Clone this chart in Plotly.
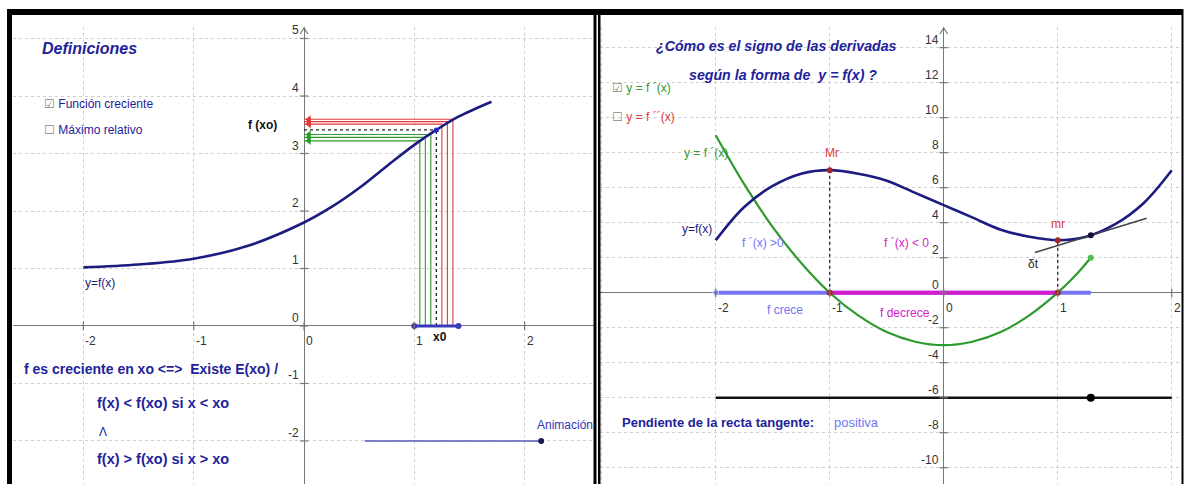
import plotly.graph_objects as go

W, H = 1184, 484

# ---------------- left panel data ----------------
left_x = [-2, -1.5, -1, -0.5, 0, 0.25, 0.5, 0.75, 1.0, 1.2, 1.4, 1.7]
left_y = [1.02, 1.07, 1.17, 1.40, 1.80, 2.07, 2.40, 2.78, 3.15, 3.41, 3.64, 3.90]
red_x = [1.25, 1.30, 1.35]
red_y = [3.51, 3.555, 3.595]
green_x = [1.05, 1.10, 1.15]
green_y = [3.22, 3.28, 3.33]
x0_val, fx0_val = 1.2, 3.41
slider_x = [1.0, 1.4]
anim_x = [0.55, 2.15]
anim_y = -2
left_xticks = [-2, -1, 0, 1, 2]
left_yticks = [-2, -1, 0, 1, 2, 3, 4, 5]

# ---------------- right panel data ----------------
fx = [-2, -1.75, -1.5, -1.25, -1, -0.75, -0.5, -0.25, 0, 0.25, 0.5, 0.75, 1, 1.25, 1.5, 1.75, 2]
fy = [3.0, 4.9, 6.1, 6.8, 7.0, 6.8, 6.4, 5.7, 5.0, 4.3, 3.6, 3.2, 3.0, 3.2, 3.9, 5.1, 7.0]
dfx = [-2, -1.75, -1.5, -1.25, -1, -0.75, -0.5, -0.25, 0, 0.25, 0.5, 0.75, 1, 1.15, 1.29]
dfy = [9.0, 6.2, 3.75, 1.7, 0, -1.3, -2.25, -2.8, -3.0, -2.8, -2.25, -1.3, 0, 0.95, 2.0]
max_pt = (-1, 7.0)
min_pt = (1, 3.0)
cur_x, cur_f, cur_df = 1.29, 3.28, 2.0
tan_x = [0.8, 1.78]
tan_y = [2.30, 4.25]
crece_x = [-2, 1.29]
decrece_x = [-1, 1]
slope_slider_x = [-2, 2.0]
slope_slider_y = -6
right_xticks = [-2, -1, 0, 1, 2]
right_yticks = [-10, -8, -6, -4, -2, 0, 2, 4, 6, 8, 10, 12, 14]

# colours
DARK = "#1c1c80"
TXT = "#22229a"
LBLUE = "#7474f4"
MAG = "#d41ccc"
GREEN = "#2f9a2f"
RED = "#e03a3a"
AXIS = "#777777"

# view ranges (GeoGebra style)
LX = [-2.638, 2.629]
LY = [-2.748, 5.2]
RX = [-3.015, 2.090]
RY = [-10.93, 15.18]

fig = go.Figure()


def seg(xs, ys, color, width=1.2, dash=None, ax="", mode="lines", **kw):
    fig.add_trace(go.Scatter(x=xs, y=ys, mode=mode, xaxis="x" + ax, yaxis="y" + ax,
                             line=dict(color=color, width=width, dash=dash),
                             hoverinfo="skip", **kw))


# ---------- left panel ----------
for xs, ys, col in [(green_x, green_y, GREEN), (red_x, red_y, RED)]:
    vx, vy = [], []
    for a, b in zip(xs, ys):
        vx += [a, a, 0, None]
        vy += [0, b, b, None]
    seg(vx, vy, col, 1.1)
    seg([0.045] * len(ys), ys, col, mode="markers",
        marker=dict(symbol="triangle-left", size=7, color=col))

seg([x0_val, x0_val, None, 0, x0_val], [0, fx0_val, None, fx0_val, fx0_val], "#222222", 1.3, "dot")
seg(left_x, left_y, DARK, 2.6, line_shape="spline")
seg([x0_val], [fx0_val], DARK, mode="markers", marker=dict(size=5, color="#2222cc"))
seg(slider_x, [0, 0], "#3a3ab8", 3, mode="lines+markers", marker=dict(size=6, color="#3a3ab8"))
seg(anim_x, [anim_y, anim_y], "#5a5ab8", 1.5)
seg([anim_x[1]], [anim_y], "#222255", mode="markers", marker=dict(size=6, color="#1a1a50"))

# ---------- right panel ----------
seg([max_pt[0], max_pt[0], None, min_pt[0], min_pt[0]],
    [0, max_pt[1], None, 0, min_pt[1]], "#222222", 1.3, "dot", ax="2")
seg(crece_x, [0, 0], LBLUE, 4, ax="2", mode="lines+markers",
    marker=dict(size=[6, 0], color=LBLUE))
seg(decrece_x, [0, 0], MAG, 4, ax="2")
seg(dfx, dfy, GREEN, 2.2, ax="2", line_shape="spline")
seg([cur_x], [cur_df], GREEN, ax="2", mode="markers", marker=dict(size=6, color="#55bb55"))
seg(fx, fy, DARK, 2.6, ax="2", line_shape="spline")
seg(tan_x, tan_y, "#444444", 1.5, ax="2")
seg([cur_x], [cur_f], "#111111", ax="2", mode="markers", marker=dict(size=6, color="#111133"))
seg([max_pt[0], min_pt[0], max_pt[0], min_pt[0]], [max_pt[1], min_pt[1], 0, 0], "#a02828", ax="2",
    mode="markers", marker=dict(size=6, color="#a02828"))
seg(slope_slider_x, [slope_slider_y] * 2, "#111111", 2.5, ax="2")
seg([cur_x], [slope_slider_y], "#111111", ax="2", mode="markers", marker=dict(size=8, color="#000000"))

# tick marks on the axes and arrows
for ax, xt, yt, xr, yr in [("", left_xticks, left_yticks, LX, LY), ("2", right_xticks, right_yticks, RX, RY)]:
    seg(xt, [0] * len(xt), AXIS, ax=ax, mode="markers",
        marker=dict(symbol="line-ns-open", size=6, color=AXIS, line=dict(width=1.2, color=AXIS)))
    seg([0] * len(yt), yt, AXIS, ax=ax, mode="markers",
        marker=dict(symbol="line-ew-open", size=6, color=AXIS, line=dict(width=1.2, color=AXIS)))
    hw = 0.035 * (xr[1] - xr[0]) / 5.27
    hh = 7 / 457 * (yr[1] - yr[0])
    seg([-hw, 0, hw], [yr[1] - hh, yr[1] - 0.002 * (yr[1] - yr[0]), yr[1] - hh], AXIS, 1.2, ax=ax)

annotations = []
FONT = "Liberation Sans, Arial"


def txt(text, px, py, size=12, color=TXT, bold=False, italic=False, anchor="center"):
    if bold:
        text = "<b>" + text + "</b>"
    if italic:
        text = "<i>" + text + "</i>"
    annotations.append(dict(text=text, x=px / W, y=1 - py / H, xref="paper", yref="paper",
                            xanchor=anchor, yanchor="middle", showarrow=False,
                            font=dict(size=size, color=color, family=FONT)))


# axis numbers
for ax, xt, yt in [("", left_xticks, left_yticks), ("2", right_xticks, right_yticks)]:
    for v in xt:
        annotations.append(dict(text=str(v), x=v, y=0, xref="x" + ax, yref="y" + ax,
                                xanchor="left", yanchor="top", xshift=0, yshift=-6, showarrow=False,
                                font=dict(size=12, color="#333333", family=FONT)))
    for v in yt:
        annotations.append(dict(text=str(v), x=0, y=v, xref="x" + ax, yref="y" + ax,
                                xanchor="right", yanchor="bottom", xshift=-3, yshift=-1, showarrow=False,
                                font=dict(size=12, color="#333333", family=FONT)))

box_on = "<span style='color:#888888'>☑</span> "
box_off = "<span style='color:#888888'>☐</span> "

# left panel texts
txt("Definiciones", 40, 48, 16, bold=True, italic=True, anchor="left")
txt(box_on + "Función creciente", 42, 104, 12, anchor="left")
txt(box_off + "Máximo relativo", 42, 130, 12, anchor="left")
txt("f (xo)", 262, 125, 12, color="#111111", bold=True)
txt("y=f(x)", 100, 283, 12, color=DARK)
txt("f es creciente en xo &lt;=&gt;  Existe E(xo) /", 22, 369, 14, bold=True, anchor="left")
txt("f(x) &lt; f(xo) si x &lt; xo", 95, 403, 14.5, bold=True, anchor="left")
txt("Λ", 97, 432, 12, anchor="left")
txt("f(x) &gt; f(xo) si x &gt; xo", 95, 459, 14.5, bold=True, anchor="left")
txt("Animación", 565, 425, 12, color="#3535b5")
txt("x0", 440, 337, 12, color="#111111", bold=True)

# right panel texts
txt("¿Cómo es el signo de las derivadas", 776, 46, 14.2, bold=True, italic=True)
txt("según la forma de  y = f(x) ?", 783, 75, 14.2, bold=True, italic=True)
txt(box_on + "<span style='color:%s'>y = f ´(x)</span>" % GREEN, 610, 88, 12, anchor="left")
txt(box_off + "<span style='color:%s'>y = f ´´(x)</span>" % RED, 610, 117, 12, anchor="left")
txt("y = f ´(x)", 706, 153, 12, color=GREEN)
txt("Mr", 832, 153, 12, color=RED)
txt("y=f(x)", 697, 229, 12, color=DARK)
txt("f ´(x) &gt;0", 763, 243, 12, color=LBLUE)
txt("f ´(x) &lt; 0", 906, 243, 12, color=MAG)
txt("mr", 1058, 224, 12, color=RED)
txt("δt", 1033, 264, 12, color="#222222")
txt("f crece", 785, 310, 12, color=LBLUE)
txt("f decrece", 905, 313, 12, color=MAG)
txt("Pendiente de la recta tangente:", 620, 422, 13, bold=True, anchor="left")
txt("positiva", 832, 422, 13, color=LBLUE, anchor="left")

# frame of the two views
shapes = []
for x_a, x_b, y_a, y_b in [(7, 1183, 9, 15), (7, 12, 9, 484), (593.5, 596.5, 9, 484),
                           (598, 600.5, 9, 484), (1181.5, 1183.5, 9, 484)]:
    shapes.append(dict(type="rect", xref="paper", yref="paper", x0=x_a / W, x1=x_b / W,
                       y0=1 - y_b / H, y1=1 - y_a / H, fillcolor="black", line=dict(width=0), layer="above"))

top = 1 - 27 / H
grid = dict(showgrid=True, gridcolor="#cfcfcf", griddash="dot", gridwidth=1,
            zeroline=True, zerolinecolor=AXIS, zerolinewidth=1.3,
            showticklabels=False, ticks="", showline=False, fixedrange=True)

fig.update_layout(
    width=W, height=H,
    margin=dict(l=0, r=0, t=0, b=0),
    paper_bgcolor="white", plot_bgcolor="white",
    showlegend=False, hovermode=False,
    xaxis=dict(domain=[13 / W, 594 / W], range=LX, dtick=1, tick0=0, anchor="y", **grid),
    yaxis=dict(domain=[0, top], range=LY, dtick=1, tick0=0, anchor="x", **grid),
    xaxis2=dict(domain=[600 / W, 1182 / W], range=RX, dtick=1, tick0=0, anchor="y2", **grid),
    yaxis2=dict(domain=[0, top], range=RY, dtick=2, tick0=0, anchor="x2", **grid),
    annotations=annotations,
    shapes=shapes,
)

fig.write_html("out.html", config={"displayModeBar": False},
               post_script="document.body.style.margin='0';document.body.style.padding='0';")
